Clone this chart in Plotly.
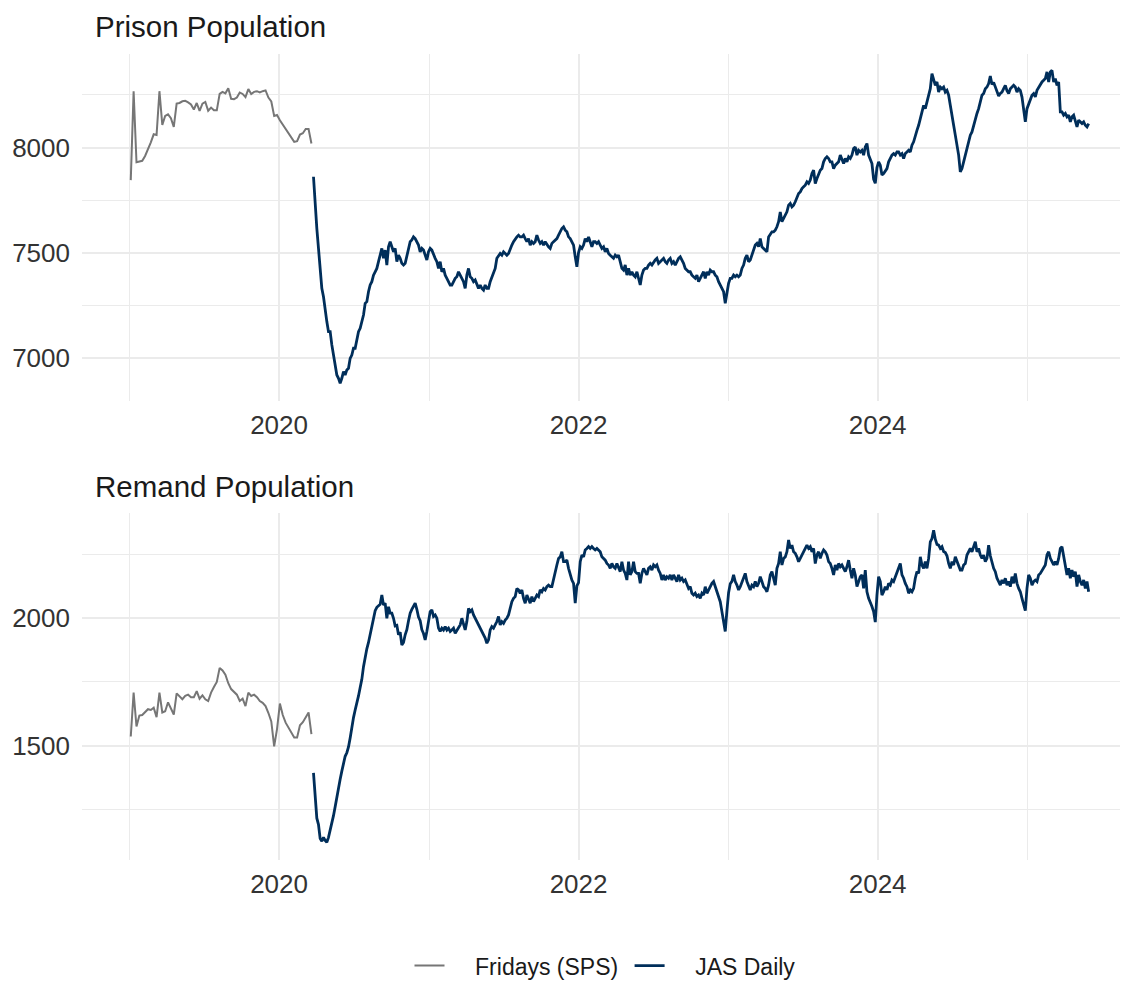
import pandas as pd
import plotly.graph_objects as go

# ---------------- data ----------------
sps_start = "2019-01-04"   # weekly Fridays
jas_start = "2020-03-25"   # JAS daily series (sampled)
jas_end = "2025-05-30"

prison_sps = [7845, 8268, 7930, 7935, 7937, 7960, 7990, 8025, 8063, 8060,
              8268, 8108, 8150, 8158, 8140, 8098, 8209, 8212, 8220, 8222,
              8215, 8205, 8181, 8212, 8174, 8209, 8217, 8175, 8190, 8177,
              8177, 8255, 8265, 8258, 8282, 8232, 8230, 8238, 8262, 8255,
              8240, 8278, 8255, 8265, 8268, 8262, 8268, 8272, 8238, 8219,
              8150, 8155, 8130, 8110, 8088, 8065, 8045, 8027, 8030, 8062,
              8068, 8088, 8088, 8019]

remand_sps = [1536, 1708, 1575, 1618, 1620, 1630, 1643, 1640, 1649, 1612,
              1708, 1630, 1635, 1670, 1645, 1622, 1705, 1695, 1682, 1695,
              1700, 1690, 1690, 1714, 1684, 1697, 1682, 1675, 1708, 1730,
              1750, 1805, 1795, 1778, 1745, 1722, 1710, 1700, 1675, 1684,
              1655, 1708, 1695, 1700, 1690, 1675, 1668, 1655, 1628, 1595,
              1497, 1565, 1665, 1620, 1590, 1570, 1550, 1532, 1532, 1580,
              1592, 1612, 1630, 1545]

prison_jas_a = [7861, 7720, 7615, 7520, 7400, 7330, 7290, 7219, 7172, 7124,
                7124, 7061, 7013, 6966, 6918, 6902, 6879, 6902, 6934, 6918,
                6942, 6950, 6997, 7013, 7045, 7045, 7084, 7124, 7140, 7172,
                7203, 7259, 7267, 7314, 7346, 7362, 7393, 7409, 7425, 7457,
                7488, 7520, 7473, 7512, 7441, 7528, 7552, 7528, 7504, 7520,
                7457, 7488, 7473, 7449, 7441, 7449, 7488, 7520, 7552, 7560,
                7575, 7567, 7552, 7536, 7504, 7520, 7512, 7488, 7465, 7504,
                7520, 7512, 7488, 7473, 7457, 7425, 7457, 7409, 7425, 7393,
                7378, 7362, 7346, 7346, 7362, 7378, 7385, 7409, 7393, 7378,
                7362, 7330, 7393, 7425, 7385, 7378, 7362, 7370, 7346, 7330,
                7346, 7330, 7322, 7346, 7330, 7330, 7362, 7385, 7409, 7425,
                7473, 7488, 7496, 7488, 7504, 7496, 7488, 7496, 7512, 7536,
                7552, 7567, 7575, 7583, 7575, 7575, 7583, 7567, 7552, 7567,
                7536, 7552, 7544, 7552, 7583, 7560, 7544, 7552, 7536, 7552,
                7536, 7528, 7520]
prison_jas_b = [7544, 7552, 7560, 7567, 7583, 7599, 7615, 7623, 7607, 7599,
                7575, 7567, 7552, 7536, 7480, 7433, 7500, 7528, 7520, 7536,
                7567, 7552, 7575, 7552, 7528, 7552, 7552, 7544, 7552, 7536,
                7520, 7528, 7504, 7520, 7496, 7488, 7480, 7473, 7488, 7480,
                7488, 7457, 7425, 7417, 7441, 7393, 7425, 7393, 7409, 7393,
                7385, 7409, 7378, 7346, 7393, 7417, 7425, 7425, 7441, 7449,
                7441, 7457, 7465, 7473, 7449, 7457, 7465, 7473, 7457, 7449,
                7465, 7473, 7449, 7457, 7441, 7457, 7473, 7480, 7465, 7449,
                7425, 7417, 7409, 7409, 7393, 7385, 7378, 7393, 7362, 7378,
                7393, 7409, 7378, 7409, 7393, 7417, 7409, 7409, 7393, 7385,
                7362, 7346, 7330, 7314, 7259, 7314, 7354, 7378, 7378, 7393,
                7385, 7393, 7385, 7393, 7425, 7441, 7473, 7488, 7457, 7465,
                7488, 7520, 7536, 7544, 7528, 7567, 7528, 7520, 7512, 7504,
                7575, 7591, 7599, 7599, 7607, 7623, 7647, 7694, 7647, 7663,
                7678, 7694, 7726, 7734, 7718, 7726, 7742, 7766, 7781, 7789,
                7805, 7813, 7821, 7837, 7829, 7845, 7876, 7892, 7829, 7853,
                7869, 7892, 7900, 7932, 7948, 7956, 7948, 7932]
prison_jas_c = [7932, 7900, 7916, 7924, 7932, 7964, 7948, 7924, 7948, 7932,
                7956, 7948, 7964, 7995, 8003, 7964, 7987, 7979, 7987, 7964,
                8003, 8019, 7964, 7948, 7924, 7850, 7830, 7905, 7932, 7916,
                7869, 7876, 7892, 7900, 7932, 7948, 7964, 7971, 7964, 7979,
                7979, 7964, 7971, 7948, 7971, 7979, 7987, 7979, 8011, 8027,
                8059, 8082, 8106, 8138, 8177, 8201, 8185, 8217, 8241, 8280,
                8352, 8320, 8296, 8312, 8264, 8288, 8280, 8288, 8264, 8272,
                8249, 8201, 8162, 8106, 8059, 8011, 7964, 7884, 7900, 7932,
                7964, 7995, 8027, 8059, 8074, 8106, 8138, 8162, 8185, 8217,
                8249, 8257, 8280, 8288, 8304, 8340, 8300, 8310, 8285, 8270,
                8245, 8257, 8264, 8280, 8296, 8270, 8257, 8280, 8288, 8296,
                8288, 8264, 8280, 8272, 8240, 8190, 8122, 8185, 8209, 8233,
                8249, 8257, 8241, 8272, 8288, 8296, 8312, 8320, 8328, 8360,
                8312, 8360, 8367, 8312, 8328, 8296, 8312, 8170, 8170, 8154,
                8162, 8146, 8154, 8122, 8146, 8154, 8130, 8098, 8130, 8122,
                8114, 8122, 8106, 8098, 8114]

remand_jas_a = [1393, 1300, 1215, 1190, 1135, 1125, 1140, 1128, 1120, 1140,
                1165, 1200, 1225, 1260, 1300, 1340, 1368, 1400, 1435, 1458,
                1472, 1495, 1530, 1580, 1610, 1640, 1665, 1695, 1728, 1760,
                1810, 1855, 1880, 1905, 1940, 1970, 2005, 2030, 2043, 2050,
                2055, 2091, 2052, 2059, 2000, 2045, 2020, 2020, 2000, 1970,
                1972, 1935, 1945, 1895, 1905, 1935, 1955, 1990, 2020, 2035,
                2048, 2059, 2035, 2005, 1990, 1955, 1940, 1915, 1948, 1987,
                2026, 2033, 2007, 2013, 2000, 1961, 1948, 1961, 1954, 1967,
                1954, 1961, 1948, 1954, 1961, 1941, 1954, 1961, 1974, 2000,
                1974, 1954, 1987, 2039, 2026, 2033, 2013, 2000, 1987, 1974,
                1961, 1954, 1935, 1922, 1902, 1915, 1954, 1967, 1961, 1974,
                1987, 2007, 1974, 1987, 1980, 1993, 2000, 2013, 2039, 2065,
                2078, 2085, 2117, 2111, 2098, 2111, 2078, 2059, 2091, 2072,
                2059, 2085, 2065, 2078, 2091, 2085, 2111, 2104, 2117, 2111,
                2124, 2130, 2124]
remand_jas_b = [2124, 2157, 2183, 2209, 2235, 2241, 2261, 2222, 2222, 2228,
                2196, 2170, 2150, 2137, 2059, 2127, 2140, 2222, 2248, 2241,
                2268, 2274, 2281, 2274, 2281, 2274, 2268, 2274, 2268, 2261,
                2241, 2235, 2228, 2215, 2209, 2196, 2215, 2202, 2196, 2215,
                2196, 2183, 2222, 2189, 2176, 2150, 2222, 2170, 2183, 2222,
                2183, 2176, 2176, 2137, 2176, 2196, 2183, 2170, 2196, 2202,
                2189, 2209, 2202, 2209, 2189, 2176, 2150, 2170, 2150, 2163,
                2157, 2170, 2150, 2170, 2157, 2144, 2170, 2150, 2157, 2144,
                2150, 2130, 2117, 2124, 2098, 2091, 2098, 2085, 2091, 2078,
                2098, 2091, 2124, 2098, 2111, 2130, 2137, 2144, 2124, 2111,
                2091, 2065, 2026, 1987, 1948, 2030, 2100, 2135, 2145, 2170,
                2144, 2130, 2111, 2124, 2144, 2157, 2176, 2144, 2124, 2111,
                2130, 2124, 2144, 2124, 2137, 2163, 2144, 2124, 2117, 2104,
                2130, 2170, 2183, 2150, 2130, 2196, 2215, 2261, 2209, 2235,
                2241, 2261, 2307, 2274, 2287, 2261, 2255, 2241, 2222, 2235,
                2248, 2261, 2268, 2287, 2274, 2281, 2261, 2274, 2215, 2248,
                2261, 2235, 2255, 2268, 2261, 2248, 2222, 2215]
remand_jas_c = [2196, 2170, 2209, 2189, 2215, 2202, 2209, 2196, 2183, 2202,
                2228, 2189, 2157, 2196, 2170, 2124, 2144, 2163, 2170, 2117,
                2189, 2104, 2078, 2065, 2046, 2026, 1985, 2091, 2163, 2144,
                2091, 2104, 2124, 2111, 2137, 2130, 2150, 2144, 2163, 2183,
                2196, 2215, 2170, 2157, 2137, 2124, 2098, 2111, 2104, 2117,
                2157, 2183, 2176, 2241, 2209, 2196, 2222, 2196, 2235, 2300,
                2313, 2345, 2310, 2290, 2287, 2274, 2281, 2262, 2258, 2245,
                2215, 2196, 2222, 2209, 2241, 2222, 2202, 2189, 2189, 2209,
                2215, 2248, 2261, 2274, 2261, 2281, 2300, 2261, 2274, 2248,
                2235, 2248, 2222, 2235, 2287, 2245, 2215, 2196, 2183, 2157,
                2144, 2130, 2150, 2137, 2157, 2130, 2144, 2124, 2163, 2137,
                2176, 2137, 2117, 2104, 2078, 2052, 2030, 2117, 2170, 2157,
                2130, 2144, 2150, 2144, 2170, 2176, 2189, 2202, 2209, 2248,
                2261, 2235, 2222, 2209, 2222, 2209, 2235, 2274, 2281, 2248,
                2209, 2170, 2196, 2157, 2189, 2163, 2183, 2124, 2170, 2144,
                2130, 2150, 2117, 2144, 2104]

prison_jas = prison_jas_a + prison_jas_b + prison_jas_c
remand_jas = remand_jas_a + remand_jas_b + remand_jas_c

panel_titles = ["Prison Population", "Remand Population"]
series_names = ["Fridays (SPS)", "JAS Daily"]

x_major = ["2020-01-01", "2022-01-01", "2024-01-01"]
x_major_text = ["2020", "2022", "2024"]
x_minor = ["2019-01-01", "2021-01-01", "2023-01-01", "2025-01-01"]
prison_major = [7000, 7500, 8000]
prison_minor = [7250, 7750, 8250]
remand_major = [1500, 2000]
remand_minor = [1250, 1750, 2250]

# ---------------- figure ----------------
sps_dates = pd.date_range(sps_start, periods=len(prison_sps), freq="7D")
jas_dates = pd.date_range(jas_start, jas_end, periods=len(prison_jas))

GREY = "#767676"
NAVY = "#002E5A"
GRID = "#EBEBEB"
FONT = "Liberation Sans, Arial, sans-serif"
NB = "\u00a0"

fig = go.Figure()
fig.add_trace(go.Scatter(x=sps_dates, y=prison_sps, mode="lines",
                         name=NB * 4 + series_names[0] + NB,
                         line=dict(color=GREY, width=2), xaxis="x", yaxis="y", legendrank=1))
fig.add_trace(go.Scatter(x=jas_dates, y=prison_jas, mode="lines",
                         name=NB * 4 + series_names[1],
                         line=dict(color=NAVY, width=2.8), xaxis="x", yaxis="y", legendrank=2))
fig.add_trace(go.Scatter(x=sps_dates, y=remand_sps, mode="lines", name=series_names[0],
                         line=dict(color=GREY, width=2), xaxis="x2", yaxis="y2", showlegend=False))
fig.add_trace(go.Scatter(x=jas_dates, y=remand_jas, mode="lines", name=series_names[1],
                         line=dict(color=NAVY, width=2.8), xaxis="x2", yaxis="y2", showlegend=False))

x_range = ["2018-09-07", "2025-09-03"]
tickfont = dict(family=FONT, size=26, color="#333333")


def xaxis_cfg(anchor):
    return dict(range=x_range, type="date", anchor=anchor, domain=[0, 1], automargin=False,
                tickmode="array", tickvals=x_major, ticktext=x_major_text,
                showgrid=True, gridcolor=GRID, gridwidth=2, zeroline=False,
                showline=False, ticks="", tickfont=tickfont, ticklabelstandoff=6,
                minor=dict(tickvals=x_minor, showgrid=True, gridcolor=GRID, gridwidth=1, ticks=""))


def yaxis_cfg(anchor, rng, major, minor, domain):
    return dict(range=rng, anchor=anchor, domain=domain, automargin=False,
                tickmode="array", tickvals=major, ticktext=[str(v) for v in major],
                showgrid=True, gridcolor=GRID, gridwidth=2, zeroline=False,
                showline=False, ticks="", tickfont=tickfont, ticklabelstandoff=11,
                minor=dict(tickvals=minor, showgrid=True, gridcolor=GRID, gridwidth=1, ticks=""))


# the page adds an 8px body margin, so the figure is 8px smaller than the window
fig.update_layout(
    width=1120, height=974,
    margin=dict(l=74, r=0, t=46, b=122, autoexpand=False),
    paper_bgcolor="white", plot_bgcolor="white",
    font=dict(family=FONT, color="#1A1A1A"),
    xaxis=xaxis_cfg("y"),
    yaxis=yaxis_cfg("x", [6795, 8445], prison_major, prison_minor, [0.5697, 1.0]),
    xaxis2=xaxis_cfg("y2"),
    yaxis2=yaxis_cfg("x2", [1051, 2414], remand_major, remand_minor, [0.0, 0.4308]),
    showlegend=True,
    legend=dict(orientation="h", x=0.5, xanchor="center", y=-0.131, yanchor="middle",
                font=dict(family=FONT, size=23, color="#1A1A1A"),
                tracegroupgap=0, bgcolor="rgba(0,0,0,0)"),
    hovermode=False,
)

fig.add_annotation(text=panel_titles[0], xref="paper", yref="paper", x=0.0105, y=1.0335,
                   xanchor="left", yanchor="middle", showarrow=False,
                   font=dict(family=FONT, size=29.5, color="#1A1A1A"))
fig.add_annotation(text=panel_titles[1], xref="paper", yref="paper", x=0.0105, y=0.4628,
                   xanchor="left", yanchor="middle", showarrow=False,
                   font=dict(family=FONT, size=29.5, color="#1A1A1A"))

fig.write_html("out.html")
